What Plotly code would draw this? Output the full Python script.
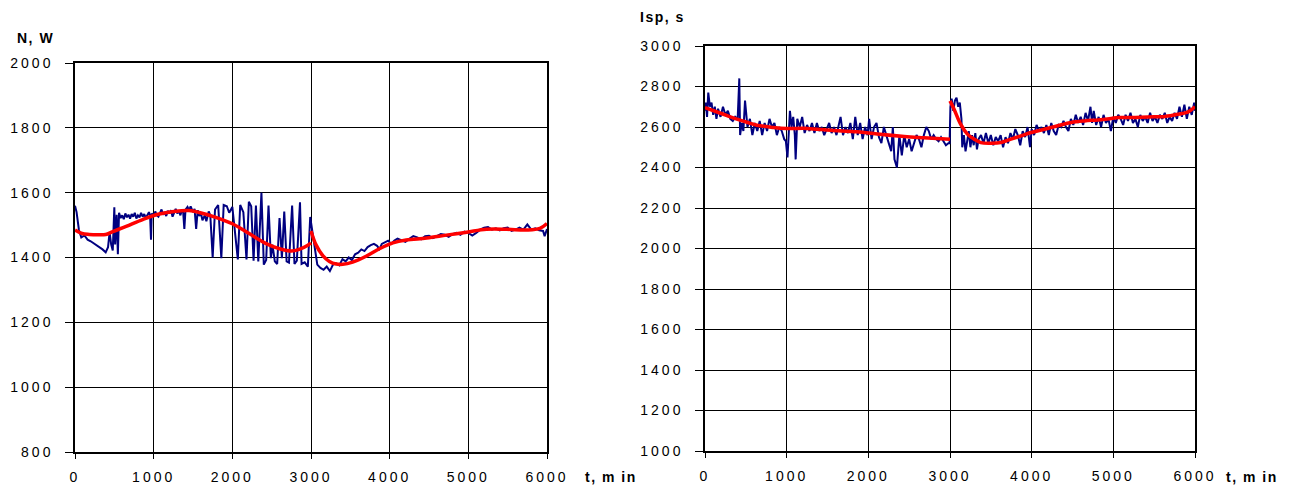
import plotly.graph_objects as go

# ---------------- Left chart: N, W ----------------
power_t = [0,20,50,80,120,160,200,250,300,350,390,420,440,460,480,500,510,530,545,
           560,580,600,620,640,660,680,700,720,740,760,780,800,820,840,860,880,900,920,940,955,966,975,
           1000,1020,1040,1060,1080,1100,1120,1140,1160,1180,1200,1220,1240,1260,1280,1300,1320,1340,1360,1375,
           1390,1405,1430,1450,1470,1500,1520,1540,1560,1580,1600,1620,1650,1670,1700,1720,1750,1780,
           1820,1860,1890,1930,1960,2000,2040,2070,2100,2140,2180,
           2210,2240,2270,2300,2330,2370,2400,2430,2460,2490,2510,2540,2570,2600,2630,2660,2690,2720,2760,2790,
           2820,2860,2880,2920,2960,2990,3010,3040,3060,3080,3120,3160,3200,3240,3280,3320,3360,3400,3440,3480,
           3520,3560,3600,3640,3680,3720,3760,3800,3840,3870,3900,3940,3980,4020,4060,4100,4150,4200,4250,4300,
           4350,4400,4450,4500,4550,4600,4650,4700,4750,4800,4850,4900,4950,5000,5050,5100,5150,5200,5250,5300,
           5350,5400,5450,5500,5550,5600,5650,5700,5750,5800,5850,5900,5950,5970,6000]
power_n = [1560,1540,1485,1462,1468,1455,1450,1442,1432,1425,1416,1432,1478,1440,1422,1555,1440,1532,1410,
           1538,1522,1530,1518,1536,1524,1532,1520,1534,1526,1538,1520,1530,1524,1538,1526,1534,1522,1532,1540,1528,1455,1536,
           1528,1542,1530,1526,1540,1548,1532,1540,1528,1544,1536,1546,1526,1540,1550,1536,1544,1530,1548,1540,
           1488,1548,1556,1545,1558,1540,1550,1488,1546,1528,1538,1515,1530,1512,1542,1530,1400,1548,
           1562,1398,1562,1558,1538,1556,1452,1394,1562,1540,1394,
           1572,1558,1390,1560,1388,1600,1378,1392,1560,1398,1440,1388,1380,1522,1398,1542,1388,1384,1560,1380,
           1390,1570,1380,1385,1372,1525,1490,1440,1400,1378,1368,1362,1372,1358,1378,1382,1376,1395,1388,1400,
           1392,1410,1415,1425,1420,1432,1438,1442,1436,1426,1442,1446,1452,1442,1452,1458,1452,1448,1458,1466,
           1462,1456,1466,1467,1460,1466,1472,1470,1464,1472,1476,1470,1480,1476,1468,1476,1486,1492,1494,1486,
           1490,1484,1490,1492,1482,1486,1492,1486,1502,1486,1490,1484,1482,1466,1488]

power_fit1_t = [0,90,180,300,390,480,650,860,1070,1280,1450,1580,1790,2000,2220,2430,2600,2750,2850,2960,3000]
power_fit1_n = [1485,1474,1471,1470,1471,1480,1496,1517,1534,1543,1545,1539,1524,1504,1473,1443,1427,1420,1425,1438,1445]
power_fit2_t = [3000,3064,3150,3234,3320,3404,3530,3700,3870,4040,4210,4470,4720,4980,5230,5490,5740,5910,6000]
power_fit2_n = [1482,1439,1406,1388,1380,1379,1386,1404,1427,1445,1454,1460,1469,1478,1487,1487,1485,1490,1505]

# ---------------- Right chart: Isp, s ----------------
isp_t = [0,10,25,40,60,80,100,120,140,160,190,220,250,280,310,340,370,400,420,430,
         450,470,490,520,550,580,610,640,670,700,730,760,790,820,850,880,910,940,970,990,
         1010,1040,1060,1080,1100,1110,1130,1160,1190,1220,1250,1280,1310,1340,1370,1400,1430,1460,1490,1520,
         1550,1580,1610,1640,1660,1690,1720,1750,1780,1810,1840,1870,1900,1930,1960,1990,2010,2040,2070,2100,
         2130,2160,2190,2220,2250,2280,2300,2320,2350,2380,2410,2440,2470,2500,2530,2560,2590,2620,2650,2680,
         2710,2740,2770,2800,2830,2860,2890,2920,2950,2980,2995,3005,3020,3040,3060,3080,3100,3120,3140,3150,
         3170,3190,3210,3230,3250,3270,3290,3310,3330,3350,3380,3410,3440,3470,3500,3530,3560,3590,3620,3650,
         3680,3710,3740,3770,3800,3830,3860,3890,3920,3950,3980,4000,4030,4060,4090,4120,4150,4180,4210,4240,
         4270,4300,4330,4360,4390,4420,4450,4480,4510,4540,4570,4600,4630,4660,4690,4720,4740,4760,4790,4820,
         4850,4880,4910,4940,4970,5000,5030,5060,5090,5120,5150,5180,5210,5240,5270,5300,5330,5360,5390,5420,
         5450,5480,5510,5540,5570,5600,5630,5660,5690,5720,5750,5780,5810,5840,5870,5900,5930,5960,5990,6000]
isp_v = [2680,2720,2650,2770,2700,2720,2660,2700,2640,2690,2650,2700,2660,2680,2640,2630,2650,2640,2840,2560,
         2620,2580,2730,2600,2640,2560,2620,2580,2630,2560,2620,2580,2640,2600,2620,2560,2600,2580,2540,2530,
         2450,2680,2600,2650,2560,2440,2640,2600,2650,2570,2610,2580,2620,2570,2620,2580,2600,2560,2590,2620,
         2570,2600,2560,2610,2650,2560,2600,2570,2620,2540,2650,2560,2620,2540,2600,2560,2640,2540,2600,2620,
         2550,2520,2600,2560,2520,2480,2600,2440,2400,2560,2460,2560,2500,2540,2480,2520,2560,2540,2500,2560,
         2600,2580,2540,2560,2540,2530,2550,2530,2510,2520,2520,2700,2740,2680,2730,2745,2700,2720,2640,2500,
         2560,2480,2530,2580,2500,2560,2510,2570,2490,2540,2560,2520,2570,2520,2560,2510,2550,2530,2560,2500,
         2550,2520,2570,2540,2590,2560,2510,2580,2550,2600,2500,2590,2560,2610,2580,2600,2570,2610,2560,2620,
         2580,2560,2610,2600,2630,2600,2580,2640,2610,2660,2620,2650,2610,2670,2630,2700,2620,2680,2610,2650,
         2600,2660,2620,2640,2580,2650,2620,2660,2640,2610,2660,2630,2670,2620,2640,2600,2660,2630,2650,2620,
         2670,2630,2650,2620,2660,2640,2670,2620,2650,2630,2670,2640,2700,2650,2710,2640,2700,2660,2720,2680]

isp_fit1_t = [0,225,430,635,840,1000,1250,1540,1865,2110,2440,2680,3000]
isp_fit1_v = [2696,2663,2634,2609,2598,2593,2593,2584,2576,2565,2553,2547,2540]
isp_fit2_t = [3000,3050,3130,3213,3295,3377,3500,3623,3746,3869,3992,4156,4320,4484,4648,4811,4975,5057,5221,5426,5631,5795,5918,6000]
isp_fit2_v = [2729,2688,2614,2565,2540,2523,2520,2523,2540,2556,2573,2589,2606,2622,2630,2635,2642,2647,2647,2650,2652,2663,2675,2700]

x_ticks = [0, 1000, 2000, 3000, 4000, 5000, 6000]
left_y_ticks = [800, 1000, 1200, 1400, 1600, 1800, 2000]
right_y_ticks = [1000, 1200, 1400, 1600, 1800, 2000, 2200, 2400, 2600, 2800, 3000]

W, H = 1292, 488
FONT = "Liberation Sans, Arial, sans-serif"
BLUE = "#000080"
RED = "#ff0000"
LS = "letter-spacing:3px"

def spaced(v):
    return '<span style="%s">%s</span>' % (LS, v)

def bold_title(s):
    return '<b><span style="letter-spacing:1.5px">%s</span></b>' % s

fig = go.Figure()
fig.add_trace(go.Scatter(x=power_t, y=power_n, mode="lines", line=dict(color=BLUE, width=2),
                         xaxis="x", yaxis="y", showlegend=False))
fig.add_trace(go.Scatter(x=power_fit1_t, y=power_fit1_n, mode="lines", line=dict(color=RED, width=3.5, shape="spline"),
                         xaxis="x", yaxis="y", showlegend=False))
fig.add_trace(go.Scatter(x=power_fit2_t, y=power_fit2_n, mode="lines", line=dict(color=RED, width=3.5, shape="spline"),
                         xaxis="x", yaxis="y", showlegend=False))
fig.add_trace(go.Scatter(x=isp_t, y=isp_v, mode="lines", line=dict(color=BLUE, width=2),
                         xaxis="x2", yaxis="y2", showlegend=False))
fig.add_trace(go.Scatter(x=isp_fit1_t, y=isp_fit1_v, mode="lines", line=dict(color=RED, width=3.5, shape="spline"),
                         xaxis="x2", yaxis="y2", showlegend=False))
fig.add_trace(go.Scatter(x=isp_fit2_t, y=isp_fit2_v, mode="lines", line=dict(color=RED, width=3.5, shape="spline"),
                         xaxis="x2", yaxis="y2", showlegend=False))

def xaxis(domain, anchor):
    return dict(domain=domain, anchor=anchor, range=[0, 6000], tickvals=x_ticks,
                ticktext=[spaced(v) for v in x_ticks], showgrid=True, gridcolor="#000000", gridwidth=1,
                showline=True, linecolor="#000000", linewidth=1.5, mirror=True, zeroline=False,
                ticks="outside", ticklen=5, tickcolor="#000000", ticklabelstandoff=6, automargin=False,
                tickfont=dict(family=FONT, size=14, color="#000000"))

def yaxis(domain, anchor, rng, ticks):
    return dict(domain=domain, anchor=anchor, range=rng, tickvals=ticks,
                ticktext=[spaced(v) for v in ticks], showgrid=True, gridcolor="#000000", gridwidth=1,
                showline=True, linecolor="#000000", linewidth=1.5, mirror=True, zeroline=False,
                ticks="outside", ticklen=8, tickcolor="#000000", ticklabelstandoff=9, automargin=False,
                tickfont=dict(family=FONT, size=14, color="#000000"))

ann_font = dict(family=FONT, size=14, color="#000000")
fig.update_layout(
    width=W, height=H, autosize=False,
    margin=dict(l=0, r=0, t=0, b=0),
    paper_bgcolor="white", plot_bgcolor="white",
    xaxis=xaxis([75 / W, 547 / W], "y"),
    yaxis=yaxis([1 - 452 / H, 1 - 63 / H], "x", [800, 2000], left_y_ticks),
    xaxis2=xaxis([705 / W, 1195 / W], "y2"),
    yaxis2=yaxis([1 - 451 / H, 1 - 46 / H], "x2", [1000, 3000], right_y_ticks),
    annotations=[
        dict(text=bold_title("N, W"), x=56 / W, y=1 - 38 / H, xref="paper", yref="paper",
             xanchor="right", yanchor="middle", showarrow=False, font=ann_font),
        dict(text=bold_title("t, m in"), x=583 / W, y=1 - 477 / H, xref="paper", yref="paper",
             xanchor="left", yanchor="middle", showarrow=False, font=ann_font),
        dict(text=bold_title("Isp, s"), x=687 / W, y=1 - 17 / H, xref="paper", yref="paper",
             xanchor="right", yanchor="middle", showarrow=False, font=ann_font),
        dict(text=bold_title("t, m in"), x=1224 / W, y=1 - 477 / H, xref="paper", yref="paper",
             xanchor="left", yanchor="middle", showarrow=False, font=ann_font),
    ],
)

fig.write_html("out.html")
